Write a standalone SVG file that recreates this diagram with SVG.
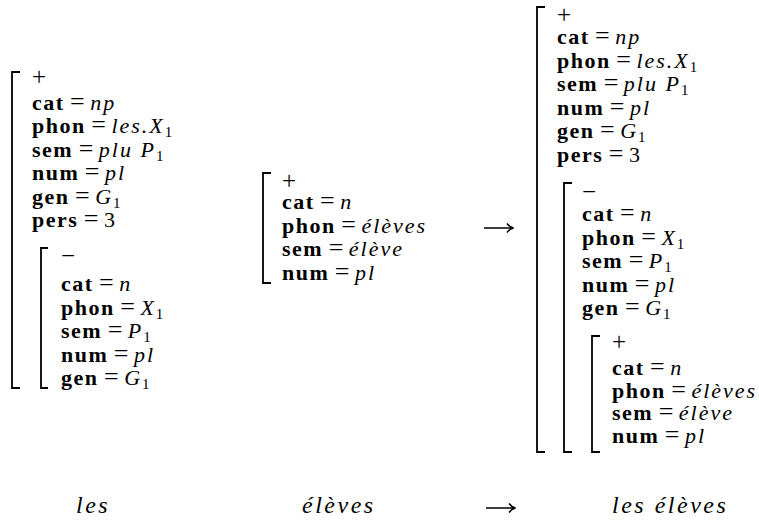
<svg xmlns="http://www.w3.org/2000/svg" width="759" height="523" viewBox="0 0 759 523">
<style>
text{font-family:"Liberation Serif","Times New Roman",serif;font-size:22px;fill:#000}
.k{font-weight:bold;letter-spacing:1.5px}
.e{font-size:26px}
.v{font-style:italic;letter-spacing:2px}
.s{font-size:15px;font-style:normal;letter-spacing:0}
.p{font-size:25px}
.g{font-size:24px;font-style:italic;letter-spacing:2.5px}
.b{fill:none;stroke:#000;stroke-width:1.8}
.a{fill:none;stroke:#000;stroke-width:1.5}
</style>
<rect width="759" height="523" fill="#fff"/>

<g id="les-avm">
<path class="b" d="M20,72H12V388H20"/>
<text class="p" x="32" y="85">+</text>
<text x="32" y="109.5"><tspan class="k">cat</tspan> <tspan class="e">=</tspan> <tspan class="v">np</tspan></text>
<text x="32" y="133"><tspan class="k">phon</tspan> <tspan class="e">=</tspan> <tspan class="v">les.X</tspan><tspan class="s" dy="4">1</tspan></text>
<text x="32" y="156.5"><tspan class="k">sem</tspan> <tspan class="e">=</tspan> <tspan class="v">plu P</tspan><tspan class="s" dy="4">1</tspan></text>
<text x="32" y="180"><tspan class="k">num</tspan> <tspan class="e">=</tspan> <tspan class="v">pl</tspan></text>
<text x="32" y="203.5"><tspan class="k">gen</tspan> <tspan class="e">=</tspan> <tspan class="v">G</tspan><tspan class="s" dy="4">1</tspan></text>
<text x="32" y="227"><tspan class="k">pers</tspan> <tspan class="e">=</tspan> 3</text>
<g id="les-n-avm">
<path class="b" d="M48,248H41V388H48"/>
<text class="p" x="61" y="264">−</text>
<text x="61" y="291"><tspan class="k">cat</tspan> <tspan class="e">=</tspan> <tspan class="v">n</tspan></text>
<text x="61" y="314.5"><tspan class="k">phon</tspan> <tspan class="e">=</tspan> <tspan class="v">X</tspan><tspan class="s" dy="4">1</tspan></text>
<text x="61" y="338"><tspan class="k">sem</tspan> <tspan class="e">=</tspan> <tspan class="v">P</tspan><tspan class="s" dy="4">1</tspan></text>
<text x="61" y="361.5"><tspan class="k">num</tspan> <tspan class="e">=</tspan> <tspan class="v">pl</tspan></text>
<text x="61" y="385"><tspan class="k">gen</tspan> <tspan class="e">=</tspan> <tspan class="v">G</tspan><tspan class="s" dy="4">1</tspan></text>
</g>
</g>

<g id="eleves-avm">
<path class="b" d="M271,173H263V283H271"/>
<text class="p" x="282" y="189">+</text>
<text x="282" y="209"><tspan class="k">cat</tspan> <tspan class="e">=</tspan> <tspan class="v">n</tspan></text>
<text x="282" y="232.5"><tspan class="k">phon</tspan> <tspan class="e">=</tspan> <tspan class="v">élèves</tspan></text>
<text x="282" y="256"><tspan class="k">sem</tspan> <tspan class="e">=</tspan> <tspan class="v">élève</tspan></text>
<text x="282" y="279.5"><tspan class="k">num</tspan> <tspan class="e">=</tspan> <tspan class="v">pl</tspan></text>
</g>

<g id="les-eleves-avm">
<path class="b" d="M545,7H537V452H545"/>
<text class="p" x="557" y="23">+</text>
<text x="557" y="44"><tspan class="k">cat</tspan> <tspan class="e">=</tspan> <tspan class="v">np</tspan></text>
<text x="557" y="67.5"><tspan class="k">phon</tspan> <tspan class="e">=</tspan> <tspan class="v">les.X</tspan><tspan class="s" dy="4">1</tspan></text>
<text x="557" y="91"><tspan class="k">sem</tspan> <tspan class="e">=</tspan> <tspan class="v">plu P</tspan><tspan class="s" dy="4">1</tspan></text>
<text x="557" y="114.5"><tspan class="k">num</tspan> <tspan class="e">=</tspan> <tspan class="v">pl</tspan></text>
<text x="557" y="138"><tspan class="k">gen</tspan> <tspan class="e">=</tspan> <tspan class="v">G</tspan><tspan class="s" dy="4">1</tspan></text>
<text x="557" y="161.5"><tspan class="k">pers</tspan> <tspan class="e">=</tspan> 3</text>
<g id="les-eleves-n-avm">
<path class="b" d="M572,183H564V452H572"/>
<text class="p" x="582" y="200">−</text>
<text x="582" y="221"><tspan class="k">cat</tspan> <tspan class="e">=</tspan> <tspan class="v">n</tspan></text>
<text x="582" y="244.5"><tspan class="k">phon</tspan> <tspan class="e">=</tspan> <tspan class="v">X</tspan><tspan class="s" dy="4">1</tspan></text>
<text x="582" y="268"><tspan class="k">sem</tspan> <tspan class="e">=</tspan> <tspan class="v">P</tspan><tspan class="s" dy="4">1</tspan></text>
<text x="582" y="291.5"><tspan class="k">num</tspan> <tspan class="e">=</tspan> <tspan class="v">pl</tspan></text>
<text x="582" y="315"><tspan class="k">gen</tspan> <tspan class="e">=</tspan> <tspan class="v">G</tspan><tspan class="s" dy="4">1</tspan></text>
<g id="les-eleves-inner-avm">
<path class="b" d="M600,336H592V452H600"/>
<text class="p" x="612" y="350">+</text>
<text x="612" y="374.5"><tspan class="k">cat</tspan> <tspan class="e">=</tspan> <tspan class="v">n</tspan></text>
<text x="612" y="397.5"><tspan class="k">phon</tspan> <tspan class="e">=</tspan> <tspan class="v">élèves</tspan></text>
<text x="612" y="420"><tspan class="k">sem</tspan> <tspan class="e">=</tspan> <tspan class="v">élève</tspan></text>
<text x="612" y="443"><tspan class="k">num</tspan> <tspan class="e">=</tspan> <tspan class="v">pl</tspan></text>
</g>
</g>
</g>

<g id="words">
<text class="g" x="76" y="513">les</text>
<text class="g" x="302" y="513">élèves</text>
<text class="g" x="612" y="513">les élèves</text>
</g>

<g id="connectors">
<path class="a" d="M484,228H513M507,223.5Q509.5,227 513.5,228Q509.5,229 507,232.5"/>
<path class="a" d="M486,508H515M509,503.5Q511.5,507 515.5,508Q511.5,509 509,512.5"/>
</g>
</svg>
